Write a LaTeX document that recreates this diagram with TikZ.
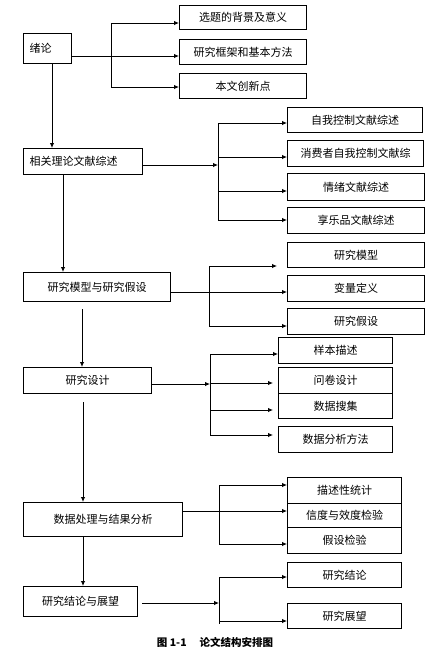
\documentclass[tikz,border=0pt]{standalone}
\usepackage{fontspec}
\newfontfamily\cjk{Noto Sans CJK SC}
\usetikzlibrary{arrows.meta}
\newcommand{\mybox}[6]{\node[box,anchor=north west,minimum width={(#4-#2)*1pt},minimum height={(#5-#3)*1pt}] (#1) at (#2,#3) {#6};}
\newcommand{\myboxL}[6]{\node[box,anchor=north west,minimum width={(#4-#2)*1pt},minimum height={(#5-#3)*1pt},align=left,text width={(#4-#2-12)*1pt}] (#1) at (#2,#3) {#6};}
\begin{document}
\begin{tikzpicture}[x=1pt,y=-1pt,
  box/.style={draw,line width=1.1pt,inner sep=0pt,font=\cjk\fontsize{11}{13}\selectfont},
  ln/.style={line width=0.9pt},
  arr/.style={line width=0.9pt,-{Latex[length=5pt,width=4.5pt]}}]
\useasboundingbox (0,0) rectangle (438,654);
% left column
\myboxL{xl}{23}{33}{71}{63}{绪论}
\myboxL{xg}{23}{148}{142}{174}{相关理论文献综述}
\mybox{mg}{23}{272}{170}{301}{研究模型与研究假设}
\mybox{sd}{23}{367}{151}{393}{研究设计}
\mybox{dp}{23}{502}{182}{536}{数据处理与结果分析}
\mybox{rc}{23}{586}{137}{616}{研究结论与展望}
% group 1
\mybox{t1}{179}{5}{306}{29}{选题的背景及意义}
\mybox{t2}{179}{39}{306}{64}{研究框架和基本方法}
\mybox{t3}{179}{73}{306}{98}{本文创新点}
% group 2
\mybox{r1}{287}{107}{422}{132}{自我控制文献综述}
\mybox{r2}{287}{140}{423}{166}{消费者自我控制文献综}
\mybox{r3}{287}{173}{424}{200}{情绪文献综述}
\mybox{r4}{287}{207}{424}{233}{享乐品文献综述}
% group 3
\mybox{m1}{287}{242}{424}{267}{研究模型}
\mybox{m2}{287}{275}{424}{301}{变量定义}
\mybox{m3}{287}{308}{424}{334}{研究假设}
% group 4
\mybox{s1}{278}{337}{392}{363}{样本描述}
\mybox{s2}{278}{367}{392}{393}{问卷设计}
\mybox{s3}{278}{393}{392}{418}{数据搜集}
\mybox{s4}{278}{426}{392}{452}{数据分析方法}
% group 5
\mybox{p1}{287}{477}{401}{503}{描述性统计}
\mybox{p2}{287}{503}{401}{527}{信度与效度检验}
\mybox{p3}{287}{527}{401}{553}{假设检验}
% group 6
\mybox{c1}{287}{562}{401}{587}{研究结论}
\mybox{c2}{287}{603}{401}{628}{研究展望}
% coordinates
\coordinate (v1) at (52,0);
\coordinate (v2) at (63,0);
\coordinate (v3a) at (82,309);
\coordinate (v4a) at (83,402);
\coordinate (v5) at (83,0);
% main vertical arrows
\draw[arr] (xl.south -| v1) -- (xg.north -| v1);
\draw[arr] (xg.south -| v2) -- (mg.north -| v2);
\draw[arr] (v3a) -- (sd.north -| v3a);
\draw[arr] (v4a) -- (dp.north -| v4a);
\draw[arr] (dp.south -| v5) -- (rc.north -| v5);
% group 1
\coordinate (g1a) at (111,23);
\coordinate (g1b) at (111,87);
\coordinate (g1m) at (0,56);
\draw[arr] (xl.east |- g1m) -- (t2.west |- g1m);
\draw[ln] (g1a) -- (g1b);
\draw[arr] (g1a) -- (t1.west |- g1a);
\draw[arr] (g1b) -- (t3.west |- g1b);
% group 2
\coordinate (g2m) at (218,165);
\coordinate (g2a) at (218,123);
\coordinate (g2b) at (218,157);
\coordinate (g2c) at (218,191);
\coordinate (g2d) at (218,220);
\draw[arr] (xg.east |- g2m) -- (g2m);
\draw[ln] (g2a) -- (g2d);
\draw[arr] (g2a) -- (r1.west |- g2a);
\draw[arr] (g2b) -- (r2.west |- g2b);
\draw[arr] (g2c) -- (r3.west |- g2c);
\draw[arr] (g2d) -- (r4.west |- g2d);
% group 3
\coordinate (g3m) at (0,292);
\coordinate (g3a) at (209,266);
\coordinate (g3b) at (209,326);
\coordinate (g3e) at (277,266);
\draw[arr] (mg.east |- g3m) -- (m2.west |- g3m);
\draw[ln] (g3a) -- (g3b);
\draw[arr] (g3a) -- (g3e);
\draw[arr] (g3b) -- (m3.west |- g3b);
% group 4
\coordinate (g4m) at (210,384);
\coordinate (g4a) at (210,354);
\coordinate (g4b) at (210,383);
\coordinate (g4c) at (210,410);
\coordinate (g4d) at (210,435);
\draw[arr] (sd.east |- g4m) -- (g4m);
\draw[ln] (g4a) -- (g4d);
\draw[arr] (g4a) -- (s1.west |- g4a);
\draw[arr,shorten >=5pt] (g4b) -- (s2.west |- g4b);
\draw[arr,shorten >=5pt] (g4c) -- (s3.west |- g4c);
\draw[arr,shorten >=5pt] (g4d) -- (s4.west |- g4d);
% group 5
\coordinate (g5m) at (0,511);
\coordinate (g5a) at (219,485);
\coordinate (g5b) at (219,544);
\draw[arr] (dp.east |- g5m) -- (p2.west |- g5m);
\draw[ln] (g5a) -- (g5b);
\draw[arr] (g5a) -- (p1.west |- g5a);
\draw[arr] (g5b) -- (p3.west |- g5b);
% group 6
\coordinate (g6s) at (142,603);
\coordinate (g6m) at (219,603);
\coordinate (g6a) at (219,577);
\coordinate (g6b) at (219,624);
\coordinate (g6c) at (219,621);
\draw[arr] (g6s) -- (g6m);
\draw[ln] (g6a) -- (g6b);
\draw[arr] (g6a) -- (c1.west |- g6a);
\draw[arr] (g6c) -- (c2.west |- g6c);
% caption
\node[font=\cjk\bfseries\fontsize{10.5}{12}\selectfont] (cap) at (215,642) {图 1-1\quad\ 论文结构安排图};
\end{tikzpicture}
\end{document}
